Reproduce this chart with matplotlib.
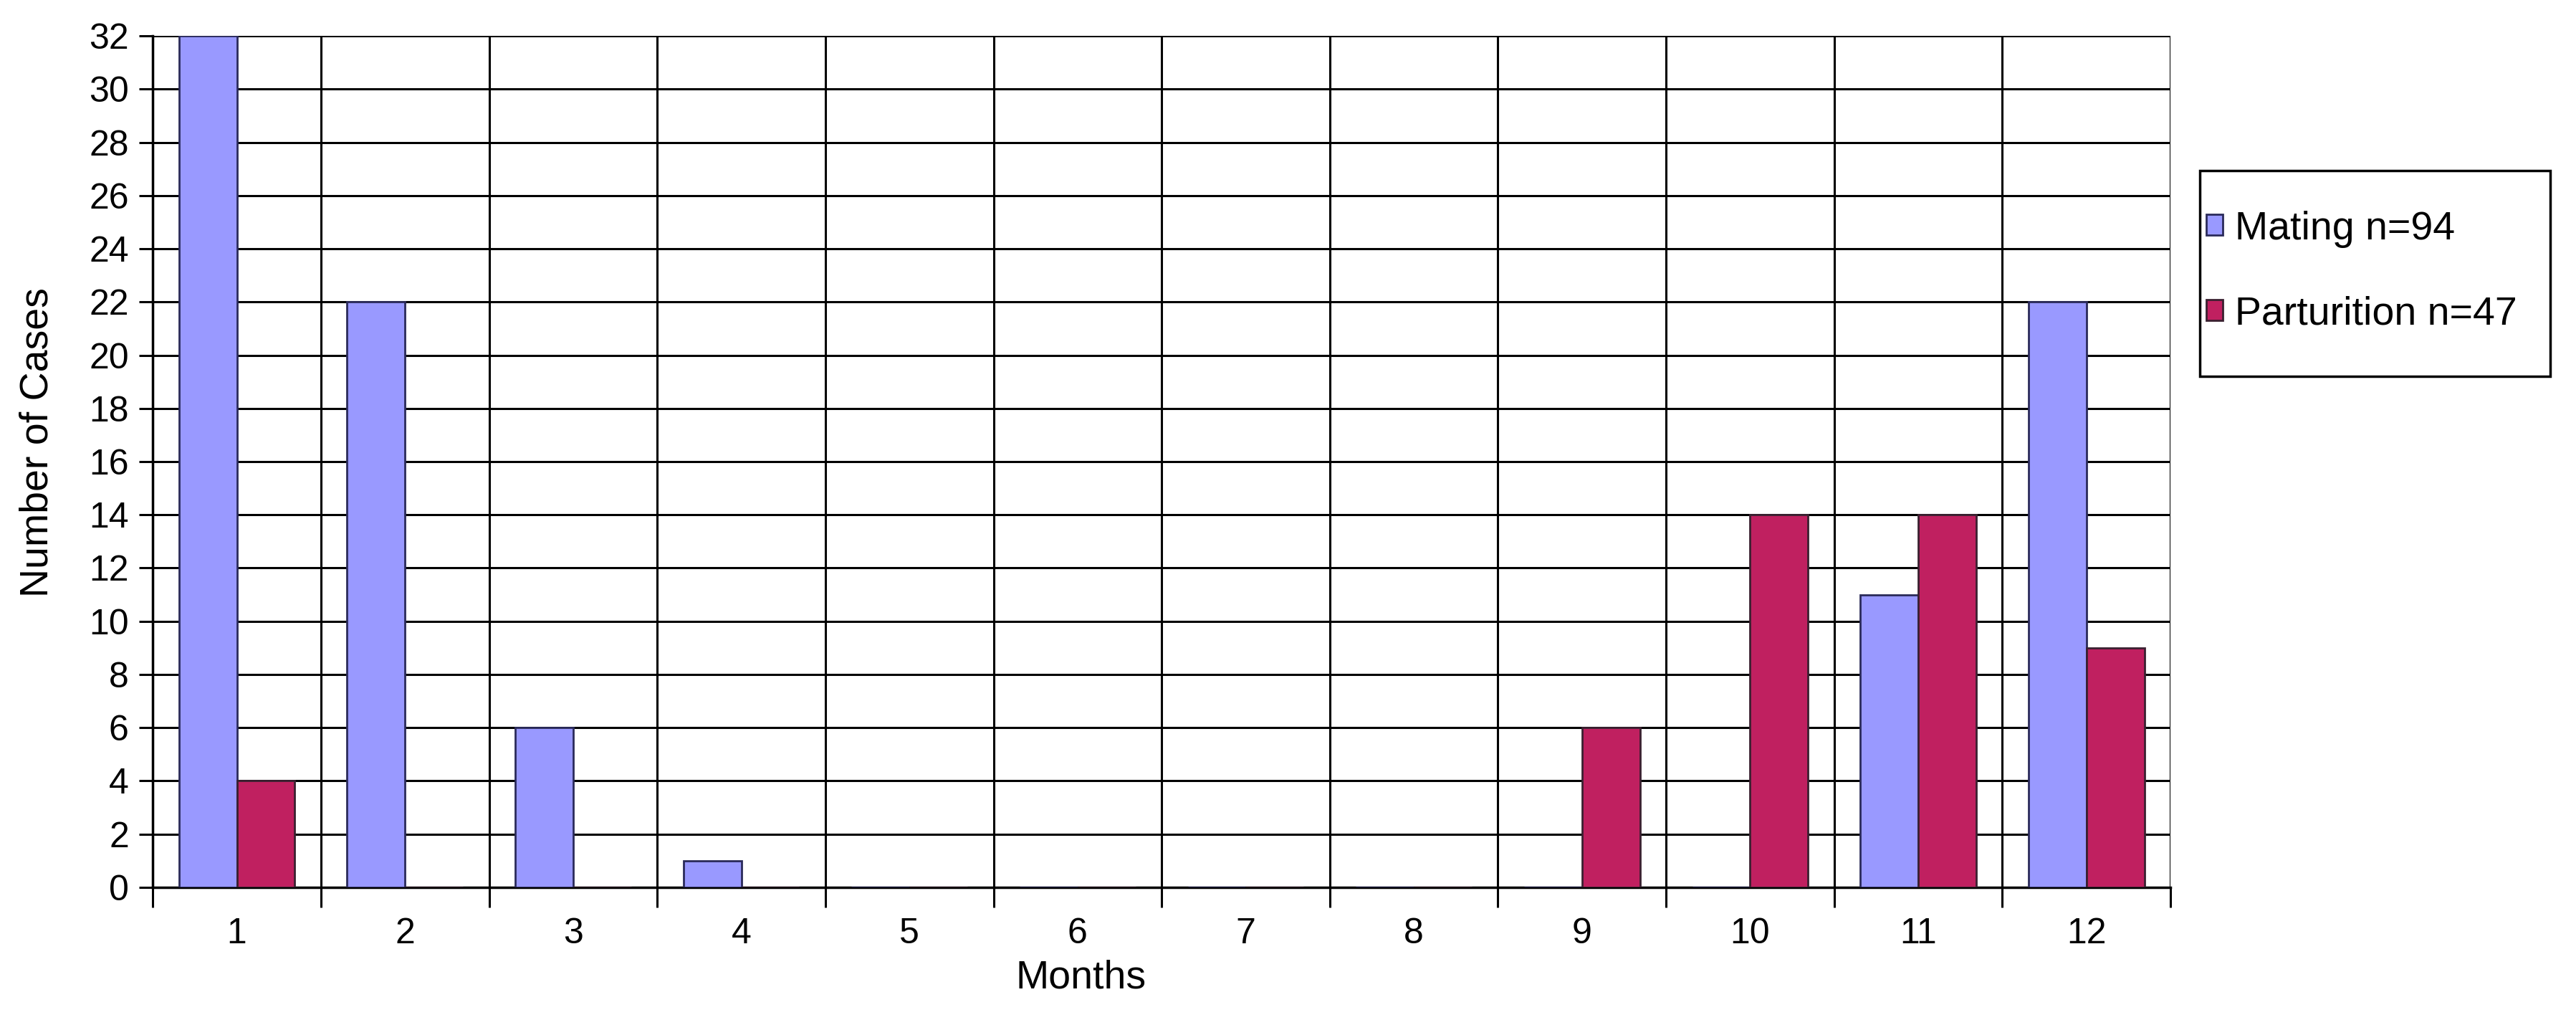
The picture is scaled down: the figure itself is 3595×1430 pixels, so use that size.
import matplotlib.pyplot as plt
from matplotlib.patches import Rectangle
import numpy as np

# Data
months = ['1', '2', '3', '4', '5', '6', '7', '8', '9', '10', '11', '12']
mating = [32, 22, 6, 1, 0, 0, 0, 0, 0, 0, 11, 22]
parturition = [4, 0, 0, 0, 0, 0, 0, 0, 6, 14, 14, 9]
labels = ['Mating n=94', 'Parturition n=47']

plt.rcParams['font.family'] = ['Liberation Sans', 'DejaVu Sans']

fig = plt.figure(figsize=(35.95, 14.3), dpi=100)
ax = fig.add_axes([0.0593, 0.1343, 0.7833, 0.8307])

x = np.arange(len(months))
w = 0.345
ax.bar(x - w / 2, mating, w, color='#9999FF', edgecolor='#2a2a5a', linewidth=2, label=labels[0], zorder=3)
ax.bar(x + w / 2, parturition, w, color='#C02060', edgecolor='#3a2030', linewidth=2, label=labels[1], zorder=3)

ax.set_xlim(-0.5, len(months) - 0.5)
ax.set_ylim(0, 32)
ax.set_yticks(range(0, 33, 2))
ax.set_xticks(x)
ax.set_xticklabels(months)
ax.set_xticks(np.arange(-0.5, len(months), 1), minor=True)

# Grid: horizontal at each major y tick, vertical at category boundaries
ax.yaxis.grid(True, color='black', linewidth=2.2, zorder=0)
ax.xaxis.grid(True, which='minor', color='black', linewidth=2.2, zorder=0)
ax.set_axisbelow(True)

ax.tick_params(axis='x', which='major', length=0, labelsize=36, pad=30)
ax.tick_params(axis='x', which='minor', length=20, width=2.2, direction='out')
ax.tick_params(axis='y', length=14, width=2.2, direction='out', labelsize=36, pad=10)

for side in ['top', 'right']:
    ax.spines[side].set_visible(False)
for side in ['left', 'bottom']:
    ax.spines[side].set_linewidth(2.5)

ax.set_xlabel('Months', fontsize=40)
ax.set_ylabel('Number of Cases', fontsize=40)
ax.xaxis.set_label_coords(0.46, -0.085)
ax.yaxis.set_label_coords(-0.048, 0.523)

# legend without its own frame, box drawn separately
leg = fig.legend(loc='center left', bbox_to_anchor=(0.8565, 0.735),
                 fontsize=40, frameon=False,
                 handlelength=0.42, handleheight=0.42, handletextpad=0.3, labelspacing=1.2,
                 borderpad=0, borderaxespad=0)
for h in leg.legend_handles:
    h.set_linewidth(2)
fig.add_artist(Rectangle((0.854, 0.633), 0.136, 0.2007, transform=fig.transFigure,
                         fill=False, edgecolor='black', linewidth=2.5))

fig.savefig('out.png', dpi=100, facecolor='white')
